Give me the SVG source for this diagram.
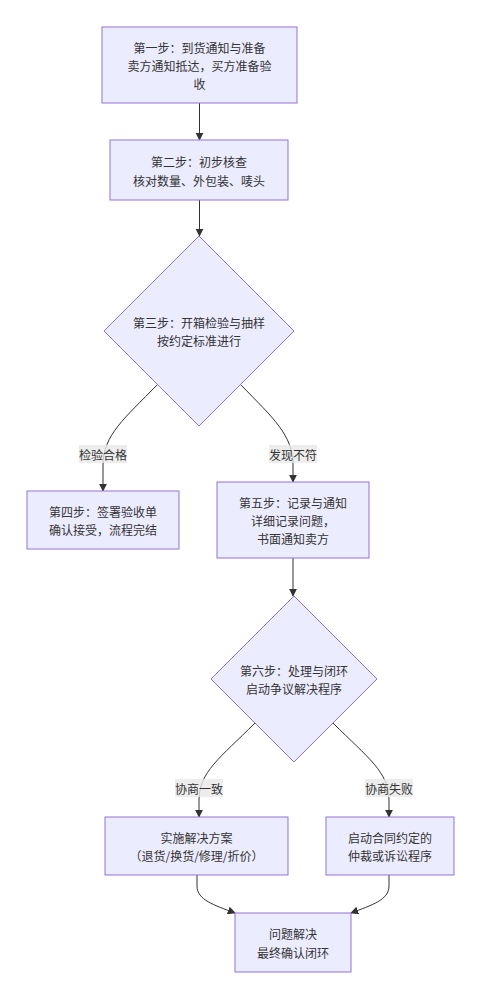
<svg xmlns="http://www.w3.org/2000/svg" width="483" height="1000" viewBox="0 0 483 1000">
<defs>
<style>
.node rect,.node polygon{fill:#ECECFF;stroke:#9370DB;stroke-width:1px;}
.t{font-family:"Noto Sans CJK SC","Noto Sans",sans-serif;font-size:12px;fill:#333;text-anchor:middle;dominant-baseline:central;}
.edge{fill:none;stroke:#333;stroke-width:1px;}
.lbg{fill:#e8e8e8;opacity:0.8;}
</style>
<marker id="arr" viewBox="0 0 10 10" refX="9" refY="5" markerWidth="8" markerHeight="8" markerUnits="userSpaceOnUse" orient="auto">
<path d="M0,0 L10,5 L0,10 z" fill="#333"/>
</marker>
</defs>
<rect width="483" height="1000" fill="#ffffff"/>
<g id="edges">
<path class="edge" d="M199.5,103 L199.5,140" marker-end="url(#arr)"/>
<path class="edge" d="M199.5,200 L199.5,236" marker-end="url(#arr)"/>
<path class="edge" d="M157,385 C125,418 103,435 103,465 L103,491" marker-end="url(#arr)"/>
<path class="edge" d="M241,385 C273,418 293,435 293,465 L293,482" marker-end="url(#arr)"/>
<path class="edge" d="M293,558 L293,596" marker-end="url(#arr)"/>
<path class="edge" d="M255,723 C220,758 199,772 199,800 L199,817" marker-end="url(#arr)"/>
<path class="edge" d="M333,723 C368,758 389,772 389,800 L389,817" marker-end="url(#arr)"/>
<path class="edge" d="M197,875 L197,886 C197,900 214,905 235,913" marker-end="url(#arr)"/>
<path class="edge" d="M389,875 L389,886 C389,900 372,905 351,913" marker-end="url(#arr)"/>
</g>
<g id="edge-labels">
<g id="label-pass"><rect class="lbg" x="79" y="445" width="48" height="18"/><text class="t" x="103" y="454">检验合格</text></g>
<g id="label-fail"><rect class="lbg" x="269" y="445" width="48" height="18"/><text class="t" x="293" y="454">发现不符</text></g>
<g id="label-agree"><rect class="lbg" x="175" y="779" width="48" height="18"/><text class="t" x="199" y="788">协商一致</text></g>
<g id="label-disagree"><rect class="lbg" x="365" y="779" width="48" height="18"/><text class="t" x="389" y="788">协商失败</text></g>
</g>
<g id="step1" class="node"><rect x="102" y="27" width="195" height="76"/>
<text class="t" x="199.5" y="47">第一步：到货通知与准备</text>
<text class="t" x="199.5" y="65">卖方通知抵达，买方准备验</text>
<text class="t" x="199.5" y="83">收</text></g>
<g id="step2" class="node"><rect x="110" y="140" width="178" height="60"/>
<text class="t" x="199" y="161">第二步：初步核查</text>
<text class="t" x="199" y="180">核对数量、外包装、唛头</text></g>
<g id="step3" class="node"><polygon points="199,236 294,331 199,426 104,331"/>
<text class="t" x="199" y="322">第三步：开箱检验与抽样</text>
<text class="t" x="199" y="340">按约定标准进行</text></g>
<g id="step4" class="node"><rect x="27" y="491" width="152" height="58"/>
<text class="t" x="103" y="511">第四步：签署验收单</text>
<text class="t" x="103" y="529">确认接受，流程完结</text></g>
<g id="step5" class="node"><rect x="217" y="482" width="152" height="76"/>
<text class="t" x="293" y="502">第五步：记录与通知</text>
<text class="t" x="293" y="520">详细记录问题，</text>
<text class="t" x="293" y="538">书面通知卖方</text></g>
<g id="step6" class="node"><polygon points="294,596 377,679 294,762 211,679"/>
<text class="t" x="294" y="670">第六步：处理与闭环</text>
<text class="t" x="294" y="688">启动争议解决程序</text></g>
<g id="resolve" class="node"><rect x="105" y="817" width="183" height="58"/>
<text class="t" x="196.5" y="837">实施解决方案</text>
<text class="t" x="196.5" y="855">（退货/换货/修理/折价）</text></g>
<g id="arbitrate" class="node"><rect x="326" y="817" width="128" height="58"/>
<text class="t" x="390" y="837">启动合同约定的</text>
<text class="t" x="390" y="855">仲裁或诉讼程序</text></g>
<g id="closed" class="node"><rect x="235" y="913" width="116" height="59"/>
<text class="t" x="293" y="933">问题解决</text>
<text class="t" x="293" y="952">最终确认闭环</text></g>
</svg>
